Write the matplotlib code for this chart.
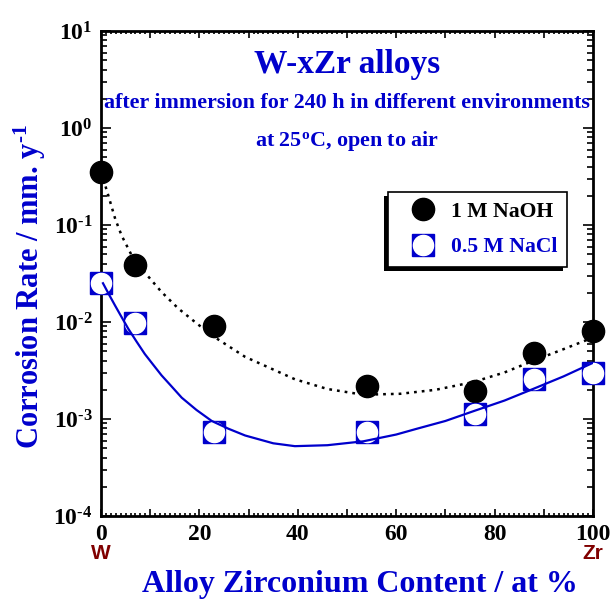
"""Corrosion rate of W-xZr alloys after 240 h immersion (NaOH vs NaCl)."""

import math

import matplotlib

matplotlib.use("Agg")
import matplotlib.pyplot as plt
import matplotlib.patheffects as pe
from matplotlib.ticker import MultipleLocator, FuncFormatter, LogLocator, NullFormatter

BLUE = "#0000cc"
MAROON = "#800000"

# measured points
zr_content = [0, 7, 23, 54, 76, 88, 100]
naoh_rate = [0.35, 0.039, 0.0091, 0.0022, 0.00195, 0.0048, 0.0081]
nacl_rate = [0.025, 0.0098, 0.00074, 0.00074, 0.00112, 0.00259, 0.0030]

# fitted curves
naoh_fit_x = [0, 1.5, 2.9, 4.2, 6.2, 8.9, 12.3, 15.7, 19.1, 22.6, 29.3, 39.4,
              46, 53.3, 60.8, 68, 75.6, 82, 87.8, 94, 100]
naoh_fit_y = [0.355, 0.200, 0.115, 0.0776, 0.0490, 0.0324, 0.0204, 0.0138,
              0.0100, 0.00724, 0.00437, 0.00257, 0.00204, 0.00178, 0.00182,
              0.00200, 0.00240, 0.00302, 0.00398, 0.00525, 0.00692]
nacl_fit_x = [0.4, 1.6, 2.85, 4.2, 5.55, 7.2, 8.9, 10.6, 12.3, 14.3, 16.4, 19.4,
              22.5, 25.9, 29.3, 35, 39.4, 46, 53.3, 60, 64.2, 70, 75.6, 82,
              87.8, 94, 100]
nacl_fit_y = [0.0251, 0.0193, 0.0148, 0.0112, 0.00851, 0.00631, 0.00468,
              0.00363, 0.00282, 0.00218, 0.00166, 0.00124, 0.000955,
              0.000794, 0.000676, 0.000562, 0.000525, 0.000537, 0.000589,
              0.000692, 0.000794, 0.000955, 0.00120, 0.00155, 0.00204,
              0.00275, 0.00380]

plt.rcParams["font.family"] = ["Liberation Serif", "DejaVu Serif"]
plt.rcParams["font.weight"] = "bold"
plt.rcParams["mathtext.fontset"] = "custom"
plt.rcParams["mathtext.rm"] = "Liberation Serif:bold"
plt.rcParams["mathtext.it"] = "Liberation Serif:bold"
plt.rcParams["mathtext.bf"] = "Liberation Serif:bold"

fig = plt.figure(figsize=(6.10, 6.01), dpi=100)
ax = fig.add_axes([0.1656, 0.1414, 0.8066, 0.807])

# markers
naoh_pts = ax.plot(zr_content, naoh_rate, "o", ms=16, color="black", zorder=4,
                   clip_on=False)[0]
sq = ax.plot(zr_content, nacl_rate, "s", ms=16, color=BLUE, mec=BLUE, zorder=4,
             clip_on=False)[0]
ci = ax.plot(zr_content, nacl_rate, "o", ms=14.5, color="white", mec="white",
             zorder=5, clip_on=False)[0]

# fit lines
ax.plot(naoh_fit_x, naoh_fit_y, color="black", lw=1.8, ls=(0, (1.1, 2.0)), zorder=6)
ax.plot(nacl_fit_x, nacl_fit_y, color=BLUE, lw=1.6, zorder=6)

ax.set_yscale("log")
ax.set_xlim(0, 100)
ax.set_ylim(1e-4, 1e1)

ax.xaxis.set_major_locator(MultipleLocator(10))
ax.xaxis.set_minor_locator(MultipleLocator(1))
ax.xaxis.set_major_formatter(FuncFormatter(lambda v, p: "%d" % v if round(v) % 20 == 0 else ""))
ax.yaxis.set_major_locator(LogLocator(base=10, numticks=20))
ax.yaxis.set_minor_locator(LogLocator(base=10, subs=range(2, 10), numticks=100))
ax.yaxis.set_minor_formatter(NullFormatter())
ax.yaxis.set_major_formatter(
    FuncFormatter(lambda v, p: r"$10^{\text{%d}}$" % round(math.log10(v))))

ax.tick_params(which="both", direction="in", top=True, right=True, width=1.2,
               labelsize=17, colors="black")
ax.tick_params(axis="y", which="major", length=7, pad=6)
ax.tick_params(axis="y", which="minor", length=4.5)
ax.tick_params(axis="x", which="major", length=5, pad=6)
ax.tick_params(axis="x", which="minor", length=2.5)
for s in ax.spines.values():
    s.set_linewidth(2)

ax.set_xlabel("Alloy Zirconium Content / at %", fontsize=23, color=BLUE,
              fontweight="bold")
ax.xaxis.set_label_coords(0.526, -0.112)
ax.set_ylabel(r"Corrosion Rate / mm. y$^{\text{-1}}$", fontsize=22, color=BLUE,
              fontweight="bold")
ax.yaxis.set_label_coords(-0.108, 0.472)

# element labels under the axis ends
for xv, name in [(0, "W"), (100, "Zr")]:
    ax.text(xv, -0.078, name, transform=ax.get_xaxis_transform(), ha="center",
            va="center", fontsize=15, color=MAROON, fontweight="bold",
            family=["Liberation Sans", "DejaVu Sans"], clip_on=False)

ax.text(0.5, 0.93, "W-xZr alloys", transform=ax.transAxes, ha="center",
        va="center", fontsize=24, color=BLUE, fontweight="bold")
ax.text(0.5, 0.851, "after immersion for 240 h in different environments",
        transform=ax.transAxes, ha="center", va="center", fontsize=15.8,
        color=BLUE, fontweight="bold")
ax.text(0.5, 0.773, r"at 25$^{\mathrm{o}}$C, open to air", transform=ax.transAxes,
        ha="center", va="center", fontsize=15.8, color=BLUE, fontweight="bold")

leg = ax.legend([naoh_pts, (sq, ci)], ["1 M NaOH", "0.5 M NaCl"],
                loc="upper left", bbox_to_anchor=(0.583, 0.668),
                borderaxespad=0, fancybox=False, edgecolor="black",
                framealpha=1, fontsize=15.6, handlelength=2.3,
                handletextpad=0.15, labelspacing=0.7, borderpad=0.45)
leg.get_frame().set_linewidth(1.2)
leg.get_frame().set_path_effects([
    pe.withSimplePatchShadow(offset=(-3, -3), shadow_rgbFace="black", alpha=1.0)])
leg.get_texts()[1].set_color(BLUE)
for t in leg.get_texts():
    t.set_fontweight("bold")

fig.savefig("out.png", dpi=100)
